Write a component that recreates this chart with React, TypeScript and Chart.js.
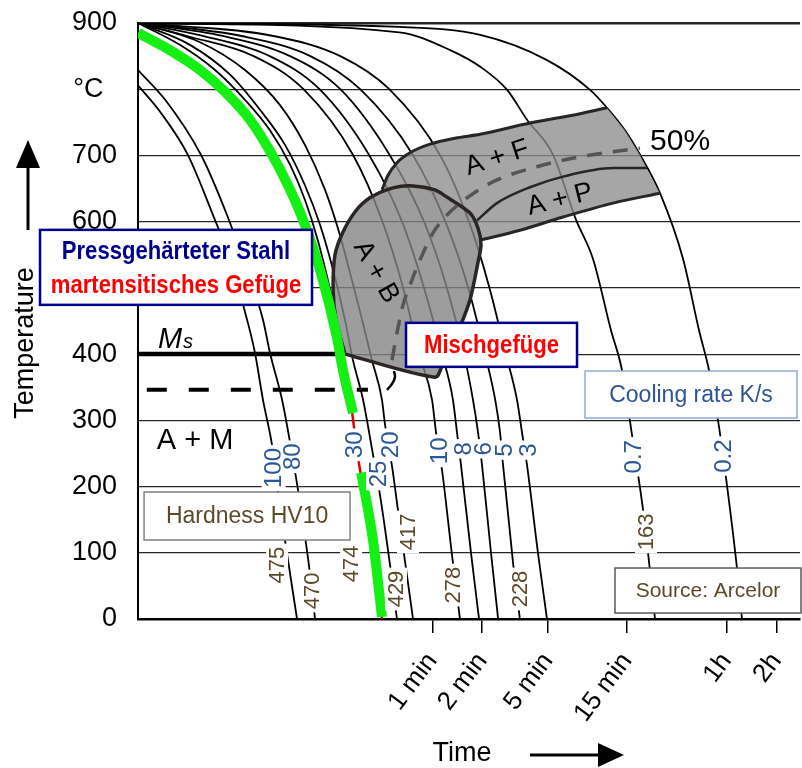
import React, { useEffect, useRef } from 'react';
import { Chart, registerables } from 'chart.js';

Chart.register(...registerables);

const FONT = '"Liberation Sans", Arial, Helvetica, sans-serif';

// ---------- axes ----------
const tempTicks = [0, 100, 200, 300, 400, 500, 600, 700, 800, 900];
const tempTickLabels = ['0', '100', '200', '300', '400', '500', '600', '700', '°C\u2002', '900'];
const timeTicks = [60, 120, 300, 900, 3600, 7200];
const timeTickLabels = ['1 min', '2 min', '5 min', '15 min', '1h', '2h'];

// ---------- cooling curves (time s, temperature °C) ----------
const c100Time = [1, 1.36, 2.0, 2.84, 3.6, 4.56, 5.09, 5.69, 6.45, 7.01, 7.73, 9.14];
const c100Temp = [806, 766, 701, 610, 542, 452, 402, 331, 263, 195, 119, 0];
const c80Time = [1, 1.46, 2.4, 3.45, 4.43, 5.69, 6.27, 7.42, 8.29, 9.26, 10.8, 11.74];
const c80Temp = [829, 784, 701, 610, 535, 452, 402, 331, 267, 195, 80, 0];
const c30Time = [1, 1.79, 2.92, 4.43, 6.27, 8.29, 10.2, 12.2, 14.5, 17.1, 19.1, 19.7];
const c30Temp = [900, 867, 829, 784, 738, 686, 633, 572, 497, 414, 331, 311];
const c30LowTime = [19.7, 21.05, 25.2, 29.8];
const c30LowTemp = [311, 255, 134, 0];
const c25Time = [1, 2.06, 3.6, 5.46, 7.73, 10.2, 12.6, 15.1, 17.8, 19.9, 22.9, 26.3, 29.0, 33.3, 36.7];
const c25Temp = [900, 867, 822, 769, 716, 655, 595, 527, 452, 391, 331, 248, 187, 82, 0];
const c20Time = [1, 2.37, 4.43, 7.21, 10.2, 13.5, 16.6, 19.6, 22.6, 25.9, 29.8, 31.1, 34.3, 37.2, 41.1, 45.9];
const c20Temp = [900, 871, 829, 776, 716, 648, 580, 512, 452, 391, 331, 293, 230, 165, 86, 0];
const c10Time = [1, 2, 5, 10, 20, 30, 40, 50, 59.8, 63.2, 68.7, 78.9, 88.2];
const c10Temp = [900, 880, 850, 800, 700, 600, 500, 400, 331, 282, 225, 97, 0];
const c8Time = [1, 2.5, 6.25, 12.5, 25, 39.4, 53.5, 68.7, 80, 84.6, 89.4, 102.8, 115];
const c8Temp = [900, 880, 850, 800, 700, 600, 500, 400, 331, 282, 233, 100, 0];
const c6Time = [1, 3.3, 8.3, 16.7, 33.3, 53.5, 73.6, 93.3, 105.7, 113.4, 119.8, 135.8, 150];
const c6Temp = [900, 880, 850, 800, 700, 600, 500, 400, 331, 282, 233, 100, 0];
const c5Time = [1, 4.3, 11, 22, 46, 72, 99, 125, 144, 154, 160.5, 184.5, 203];
const c5Temp = [900, 880, 850, 800, 700, 600, 500, 400, 331, 282, 233, 85, 0];
const c3Time = [1, 6.7, 16.7, 33, 67, 100, 133, 167, 195, 209, 224, 261, 296];
const c3Temp = [900, 880, 850, 800, 700, 600, 500, 400, 331, 282, 233, 100, 0];
const c07Time = [1, 38, 77, 120, 170, 224, 322, 443, 561, 721, 840, 966, 1126, 1224, 1330];
const c07Temp = [900, 886, 859, 832, 799, 754, 701, 603, 544, 436, 376, 278, 165, 86, 0];
const c02Time = [1, 38, 117, 296, 539, 682, 876, 1080, 1426, 1964, 2454, 2818, 3196, 3573, 4160, 4461];
const c02Temp = [900, 894, 882, 844, 799, 772, 738, 701, 643, 544, 436, 376, 300, 213, 77, 0];

// ---------- press hardening path (green) ----------
const greenTime = [1, 1.56, 2.37, 3.36, 4.75, 6.36, 8.06, 9.93, 12.6, 15.9, 17.3, 19.9];
const greenTemp = [885, 859, 829, 796, 754, 704, 655, 603, 527, 426, 376, 311];
const greenLowTime = [22.3, 26.3, 29.8];
const greenLowTemp = [221, 119, 3];

// ---------- transformation regions ----------
const noseTime = [17.8, 15.7, 15.1, 15.5, 17.3, 20.5, 25.2, 34.7, 45.9, 62.3, 73.6, 101.4, 113.4, 118.2, 113.4, 101.4, 88.2, 76.8, 68.7, 62.3, 17.8];
const noseTemp = [400, 452, 497, 550, 584, 615, 636, 651, 654, 648, 637, 613, 590, 565, 539, 482, 441, 409, 382, 365, 400];
const bandTime = [29.8, 32.4, 36.7, 44.0, 58.1, 82.3, 116.6, 233.7, 468.6, 682.1, 876, 1080, 1241, 1426, 741.7, 369.8, 203.3, 116.6, 113.4, 101.4, 73.6, 45.9, 34.7, 29.8];
const bandTemp = [648, 670, 689, 704, 717, 726, 732, 749, 763, 772, 738, 701, 670, 643, 628, 607, 587, 572, 590, 613, 637, 654, 651, 648];
const bandTopTime = [29.8, 32.4, 36.7, 44.0, 58.1, 82.3, 116.6, 233.7, 468.6, 682.1];
const bandTopTemp = [648, 670, 689, 704, 717, 726, 732, 749, 763, 772];
const bandBottomTime = [116.6, 203.3, 369.8, 741.7, 1426];
const bandBottomTemp = [572, 587, 607, 628, 643];
const bandMidTime = [111.8, 147.6, 233.7, 369.8, 741.7, 1190];
const bandMidTemp = [602, 628, 652, 668, 681, 681];
const half50Time = [34.25, 36.7, 39.9, 44.0, 49.2, 60.6, 73.6, 98.6, 147.6, 257.6, 468.6, 1079.5];
const half50Temp = [391, 432, 474, 504, 535, 583, 610, 637, 663, 683, 698, 711];
const arcTime = [31.95, 34.25, 35.7, 35.2];
const arcTemp = [346, 355, 365, 374.5];
const msTime = [1, 17.8];
const msTemp = [400, 400];
const mfTime = [1.13, 24.5];
const mfTemp = [346, 346];

// ---------- labels ----------
const rateText = ['100', '80', '30', '25', '20', '10', '8', '6', '5', '3', '0.7', '0.2'];
const rateTime = [6.6, 8.6, 20.2, 28.2, 33.3, 65.9, 92, 121.5, 162.8, 227.3, 979, 3425];
const rateTemp = [228, 245, 263, 219, 263, 254, 257, 257, 255, 255, 245, 246];
const hardText = ['475', '470', '474', '429', '417', '278', '228', '163'];
const hardTime = [6.92, 11.26, 19.4, 36.2, 42.8, 80.1, 203.3, 1174];
const hardTemp = [81.5, 42.3, 83.1, 45.3, 131.4, 51.3, 45.3, 131.4];
const regionText = ['A + F', 'A + P', 'A + B'];
const regionTime = [147.6, 354.6, 27.4];
const regionTemp = [696, 633, 524];
const regionAngle = [-18, -14, 61];
const boxTime = [1.697, 136.8, 2195, 4.56, 2780];
const boxTemp = [531, 414, 339, 155.5, 43];

const RATE_COLOR = '#2b5797';
const HARD_COLOR = '#5a4a28';

function curve(t: number[], T: number[], color: string, width: number, order: number, extra: any = {}) {
  return {
    type: 'line',
    data: t.map((v, i) => ({ x: v, y: T[i] })),
    borderColor: color,
    borderWidth: width,
    pointRadius: 0,
    pointHoverRadius: 0,
    fill: false,
    cubicInterpolationMode: 'monotone',
    order,
    ...extra,
  };
}

const cctPlugin = {
  id: 'cctAnnotations',
  afterDatasetsDraw(chart: any) {
    const { ctx } = chart;
    const xs = chart.scales.x;
    const ys = chart.scales.y;
    const px = (t: number) => xs.getPixelForValue(t);
    const py = (T: number) => ys.getPixelForValue(T);
    ctx.save();

    // region labels
    regionText.forEach((s, i) => {
      ctx.save();
      ctx.translate(px(regionTime[i]), py(regionTemp[i]));
      ctx.rotate((regionAngle[i] * Math.PI) / 180);
      ctx.font = `27px ${FONT}`;
      ctx.fillStyle = '#000';
      ctx.textAlign = 'center';
      ctx.textBaseline = 'middle';
      ctx.fillText(s, 0, 0);
      ctx.restore();
    });

    // 50%
    ctx.font = `30px ${FONT}`;
    ctx.fillStyle = '#000';
    ctx.textAlign = 'left';
    ctx.textBaseline = 'middle';
    ctx.fillText('50%', px(1241), py(720));

    // A + M
    ctx.font = `29px ${FONT}`;
    ctx.fillText('A + M', px(1.3), py(269));

    // Ms
    ctx.textBaseline = 'alphabetic';
    ctx.font = `italic 29px ${FONT}`;
    const mx = px(1.32);
    const my = py(409);
    ctx.fillText('M', mx, my);
    const mw = ctx.measureText('M').width;
    ctx.font = `italic 20px ${FONT}`;
    ctx.fillText('s', mx + mw + 1, my);

    // vertical labels with white background
    const vlabel = (text: string, t: number, T: number, color: string, size: number) => {
      ctx.save();
      ctx.translate(px(t), py(T));
      ctx.rotate(-Math.PI / 2);
      ctx.font = `${size}px ${FONT}`;
      const w = ctx.measureText(text).width;
      ctx.fillStyle = '#fff';
      ctx.fillRect(-w / 2 - 3, -size * 0.5, w + 6, size * 1.0);
      ctx.fillStyle = color;
      ctx.textAlign = 'center';
      ctx.textBaseline = 'middle';
      ctx.fillText(text, 0, 1);
      ctx.restore();
    };
    rateText.forEach((s, i) => vlabel(s, rateTime[i], rateTemp[i], RATE_COLOR, 24));
    hardText.forEach((s, i) => vlabel(s, hardTime[i], hardTemp[i], HARD_COLOR, 22));

    // boxes
    const box = (i: number, w: number, h: number, border: string, lw: number) => {
      const cx = px(boxTime[i]);
      const cy = py(boxTemp[i]);
      ctx.fillStyle = '#fff';
      ctx.fillRect(cx - w / 2, cy - h / 2, w, h);
      ctx.strokeStyle = border;
      ctx.lineWidth = lw;
      ctx.strokeRect(cx - w / 2, cy - h / 2, w, h);
      return [cx, cy];
    };
    const narrow = (text: string, cx: number, cy: number, color: string, size: number) => {
      ctx.save();
      ctx.translate(cx, cy);
      ctx.scale(0.85, 1);
      ctx.font = `bold ${size}px ${FONT}`;
      ctx.fillStyle = color;
      ctx.textAlign = 'center';
      ctx.textBaseline = 'middle';
      ctx.fillText(text, 0, 0);
      ctx.restore();
    };
    const plain = (text: string, cx: number, cy: number, color: string, size: number) => {
      ctx.font = `${size}px ${FONT}`;
      ctx.fillStyle = color;
      ctx.textAlign = 'center';
      ctx.textBaseline = 'middle';
      ctx.fillText(text, cx, cy);
    };

    let c = box(0, 272, 75, '#000090', 2.5);
    narrow('Pressgehärteter Stahl', c[0], c[1] - 16, '#000090', 26);
    narrow('martensitisches Gefüge', c[0], c[1] + 18, '#ff0000', 26);
    c = box(1, 171, 44, '#000090', 2.5);
    narrow('Mischgefüge', c[0], c[1] + 1, '#ff0000', 26);
    c = box(2, 212, 47, '#8eaadb', 1.5);
    plain('Cooling rate K/s', c[0], c[1] + 1, '#2f5496', 23);
    c = box(3, 206, 48, '#808080', 1.5);
    plain('Hardness HV10', c[0], c[1] + 1, HARD_COLOR, 23);
    c = box(4, 186, 45, '#595959', 1.5);
    plain('Source: Arcelor', c[0], c[1] + 1, HARD_COLOR, 21);

    ctx.restore();
  },
  afterDraw(chart: any) {
    const { ctx } = chart;
    ctx.save();
    ctx.fillStyle = '#000';
    // Temperature title
    ctx.save();
    ctx.translate(26, 343);
    ctx.rotate(-Math.PI / 2);
    ctx.font = `27px ${FONT}`;
    ctx.textAlign = 'center';
    ctx.textBaseline = 'middle';
    ctx.fillText('Temperature', 0, 0);
    ctx.restore();
    // up arrow
    ctx.fillRect(26.5, 165, 3, 65);
    ctx.beginPath();
    ctx.moveTo(16, 168);
    ctx.lineTo(40, 168);
    ctx.lineTo(28, 140);
    ctx.closePath();
    ctx.fill();
    // Time title
    ctx.font = `27px ${FONT}`;
    ctx.textAlign = 'center';
    ctx.textBaseline = 'middle';
    ctx.fillText('Time', 462, 754);
    // right arrow
    ctx.fillRect(530, 753.5, 72, 3);
    ctx.beginPath();
    ctx.moveTo(598, 743);
    ctx.lineTo(598, 767);
    ctx.lineTo(624, 755);
    ctx.closePath();
    ctx.fill();
    ctx.restore();
  },
};

export default function App() {
  const canvasRef = useRef<HTMLCanvasElement | null>(null);

  useEffect(() => {
    if (!canvasRef.current) return;
    Chart.defaults.font.family = FONT;
    Chart.defaults.color = '#000';

    const black = '#000';
    const datasets: any[] = [
      curve(c100Time, c100Temp, black, 1.8, 10),
      curve(c80Time, c80Temp, black, 1.8, 10),
      curve(c30Time, c30Temp, black, 1.8, 10),
      curve(c30LowTime, c30LowTemp, '#e00000', 2.5, 10),
      curve(c25Time, c25Temp, black, 1.8, 10),
      curve(c20Time, c20Temp, black, 1.8, 10),
      curve(c10Time, c10Temp, black, 1.8, 10),
      curve(c8Time, c8Temp, black, 1.8, 10),
      curve(c6Time, c6Temp, black, 1.8, 10),
      curve(c5Time, c5Temp, black, 1.8, 10),
      curve(c3Time, c3Temp, black, 1.8, 10),
      curve(c07Time, c07Temp, black, 1.8, 10),
      curve(c02Time, c02Temp, black, 1.8, 10),
      curve(bandTime, bandTemp, 'rgba(0,0,0,0)', 1, 8, {
        fill: 'shape',
        backgroundColor: 'rgba(141,141,141,0.78)',
        cubicInterpolationMode: 'default',
        tension: 0,
      }),
      curve(noseTime, noseTemp, '#2b2523', 3.5, 7, {
        fill: 'shape',
        backgroundColor: 'rgba(132,132,132,0.8)',
        cubicInterpolationMode: 'default',
        tension: 0.3,
      }),
      curve(bandTopTime, bandTopTemp, '#262626', 3, 6),
      curve(bandBottomTime, bandBottomTemp, '#262626', 3, 6),
      curve(bandMidTime, bandMidTemp, '#262626', 2.5, 6),
      curve(half50Time, half50Temp, '#555555', 3.5, 5, { borderDash: [15, 11] }),
      curve(arcTime, arcTemp, black, 2.5, 4, { cubicInterpolationMode: 'default', tension: 0.4 }),
      curve(msTime, msTemp, black, 4.5, 4),
      curve(mfTime, mfTemp, black, 4, 4, { borderDash: [20, 22] }),
      curve(greenTime, greenTemp, '#14f014', 10, 1, { borderCapStyle: 'butt' }),
      curve(greenLowTime, greenLowTemp, '#14f014', 10, 1, { borderCapStyle: 'butt' }),
    ];

    const chart = new Chart(canvasRef.current, {
      type: 'line',
      data: { datasets },
      plugins: [cctPlugin],
      options: {
        responsive: false,
        animation: false,
        events: [],
        layout: { padding: { top: 23, right: 2, left: 0, bottom: 0 } },
        plugins: { legend: { display: false }, tooltip: { enabled: false } },
        scales: {
          x: {
            type: 'logarithmic',
            min: 1,
            max: 10000,
            afterBuildTicks: (s: any) => {
              s.ticks = timeTicks.map((v) => ({ value: v }));
            },
            afterFit: (s: any) => {
              s.height = 149;
              s.paddingLeft = 0;
              s.paddingRight = 0;
            },
            ticks: {
              autoSkip: false,
              minRotation: 53,
              maxRotation: 53,
              padding: 14,
              color: '#000',
              font: { size: 26, family: FONT },
              callback: (v: any) => {
                const i = timeTicks.indexOf(Number(v));
                return i >= 0 ? timeTickLabels[i] : '';
              },
            },
            grid: { drawOnChartArea: false, drawTicks: true, tickLength: 14, color: '#000', lineWidth: 1.5 },
            border: { display: true, color: '#000', width: 2.5 },
          },
          y: {
            type: 'linear',
            min: 0,
            max: 900,
            afterFit: (s: any) => {
              s.width = 138;
            },
            afterBuildTicks: (s: any) => {
              s.ticks = tempTicks.map((v) => ({ value: v }));
            },
            ticks: {
              padding: 0,
              color: '#000',
              font: { size: 27, family: FONT },
              callback: (v: any) => {
                const i = tempTicks.indexOf(Number(v));
                return i >= 0 ? tempTickLabels[i] : '';
              },
            },
            grid: {
              color: '#262626',
              tickColor: 'rgba(0,0,0,0)',
              lineWidth: (ctx: any) => (ctx.tick && ctx.tick.value === 900 ? 2.5 : 1.2),
              tickLength: 21,
            },
            border: { display: true, color: '#000', width: 2 },
          },
        },
      },
    } as any);

    return () => chart.destroy();
  }, []);

  return (
    <div style={{ position: 'absolute', left: 0, top: 0, width: 802, height: 768, background: '#fff' }}>
      <canvas ref={canvasRef} width={802} height={768} style={{ display: 'block' }} />
    </div>
  );
}
